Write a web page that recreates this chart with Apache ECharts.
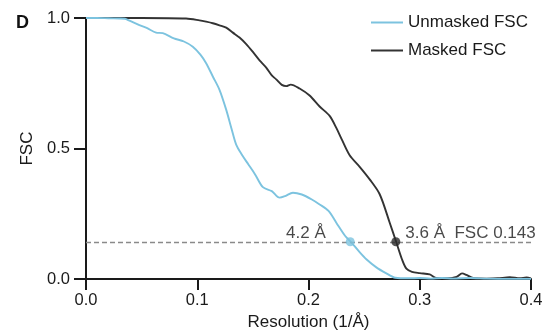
<!DOCTYPE html>
<html>
<head>
<meta charset="utf-8">
<script src="https://cdn.jsdelivr.net/npm/echarts@6/dist/echarts.min.js"></script>
<style>html,body{margin:0;padding:0;background:#fff}#c{width:548px;height:336px}</style>
</head>
<body>
<div id="c"></div>
<script>
// ---- data ----
const unmaskedX = [0, 0.01, 0.02, 0.03, 0.035, 0.039, 0.048, 0.055, 0.063, 0.069, 0.079, 0.088, 0.096, 0.103, 0.108, 0.114, 0.120, 0.126, 0.131, 0.135, 0.140, 0.146, 0.152, 0.159, 0.167, 0.174, 0.179, 0.186, 0.194, 0.203, 0.210, 0.218, 0.225, 0.233, 0.238, 0.245, 0.252, 0.261, 0.270, 0.278, 0.290, 0.300, 0.310, 0.320, 0.330, 0.345, 0.360, 0.380, 0.400];
const unmaskedY = [1.0, 1.0, 0.999, 0.998, 0.997, 0.990, 0.973, 0.961, 0.944, 0.942, 0.922, 0.910, 0.890, 0.859, 0.827, 0.776, 0.725, 0.649, 0.573, 0.515, 0.477, 0.439, 0.401, 0.352, 0.337, 0.312, 0.318, 0.331, 0.324, 0.305, 0.286, 0.261, 0.216, 0.165, 0.143, 0.108, 0.076, 0.045, 0.022, 0.005, 0.003, 0.004, 0.002, 0.004, 0.002, 0.004, 0.002, 0.001, 0.001];
const maskedX = [0, 0.05, 0.09, 0.102, 0.108, 0.114, 0.120, 0.126, 0.132, 0.138, 0.144, 0.150, 0.156, 0.162, 0.167, 0.171, 0.176, 0.180, 0.184, 0.192, 0.201, 0.210, 0.219, 0.225, 0.230, 0.237, 0.246, 0.255, 0.264, 0.273, 0.279, 0.284, 0.288, 0.293, 0.300, 0.309, 0.315, 0.325, 0.333, 0.338, 0.342, 0.348, 0.360, 0.370, 0.381, 0.390, 0.396, 0.400];
const maskedY = [1.0, 1.0, 0.998, 0.991, 0.986, 0.980, 0.972, 0.963, 0.944, 0.925, 0.900, 0.870, 0.838, 0.810, 0.780, 0.765, 0.744, 0.739, 0.745, 0.730, 0.703, 0.661, 0.625, 0.579, 0.534, 0.474, 0.430, 0.382, 0.325, 0.216, 0.140, 0.076, 0.040, 0.028, 0.023, 0.018, 0.004, 0.003, 0.008, 0.022, 0.016, 0.004, 0.002, 0.003, 0.007, 0.003, 0.006, 0.003];
const cutoff = 0.143;
const crossUnmasked = [0.2375, 0.143];
const crossMasked = [0.2785, 0.143];
const labelUnmasked = '4.2 Å';
const labelMasked = '3.6 Å  FSC 0.143';
const seriesNames = ['Unmasked FSC', 'Masked FSC'];
const xTicks = { min: 0, max: 0.4, interval: 0.1 };
const yTicks = { min: 0, max: 1.0, interval: 0.5 };

const zip = (xs, ys) => xs.map((x, i) => [x, ys[i]]);
const FONT = 'Liberation Sans, Arial, sans-serif';
const BLUE = '#7cc3df';
const DARK = '#333333';
const AX = '#1a1a1a';

const chart = echarts.init(document.getElementById('c'), null, { renderer: 'canvas' });
chart.setOption({
  animation: false,
  backgroundColor: '#ffffff',
  textStyle: { fontFamily: FONT, color: '#1a1a1a' },
  title: {
    text: 'D', left: 11, top: 9,
    textStyle: { fontFamily: FONT, fontSize: 18, fontWeight: 'bold', color: '#111' }
  },
  legend: {
    data: seriesNames,
    orient: 'vertical', left: 366, top: 9,
    itemWidth: 32, itemHeight: 2, itemGap: 11,
    textStyle: { fontFamily: FONT, fontSize: 17, color: '#1a1a1a' },
    icon: 'rect'
  },
  grid: { left: 86, right: 17, top: 18, bottom: 56 },
  xAxis: {
    type: 'value', min: xTicks.min, max: xTicks.max, interval: xTicks.interval,
    name: 'Resolution (1/Å)', nameLocation: 'middle', nameGap: 31,
    nameTextStyle: { fontFamily: FONT, fontSize: 17, color: '#1a1a1a' },
    axisLine: { show: true, lineStyle: { color: AX, width: 2 } },
    axisTick: { show: true, length: 11, lineStyle: { color: AX, width: 2 } },
    axisLabel: { fontFamily: FONT, fontSize: 16.5, color: '#1a1a1a', margin: 13, formatter: v => v.toFixed(1) },
    splitLine: { show: false }
  },
  yAxis: {
    type: 'value', min: yTicks.min, max: yTicks.max, interval: yTicks.interval,
    name: 'FSC', nameLocation: 'middle', nameGap: 44,
    nameTextStyle: { fontFamily: FONT, fontSize: 17, color: '#1a1a1a' },
    axisLine: { show: true, lineStyle: { color: AX, width: 2 } },
    axisTick: { show: true, length: 12, lineStyle: { color: AX, width: 2 } },
    axisLabel: { fontFamily: FONT, fontSize: 16.5, color: '#1a1a1a', margin: 16, formatter: v => v.toFixed(1) },
    splitLine: { show: false }
  },
  series: [
    {
      name: seriesNames[1], type: 'line', data: zip(maskedX, maskedY),
      showSymbol: false, symbol: 'none', smooth: 0.3, z: 3,
      lineStyle: { color: DARK, width: 1.9 }, itemStyle: { color: DARK },
      markLine: {
        silent: true, symbol: ['none', 'none'], label: { show: false },
        lineStyle: { color: '#8a8a8a', width: 1.3, type: [5, 3] },
        data: [{ yAxis: cutoff }]
      }
    },
    {
      name: seriesNames[0], type: 'line', data: zip(unmaskedX, unmaskedY),
      showSymbol: false, symbol: 'none', smooth: 0.3, z: 4,
      lineStyle: { color: BLUE, width: 1.9 }, itemStyle: { color: BLUE }
    },
    {
      type: 'scatter', data: [crossUnmasked], symbolSize: 9, z: 5,
      itemStyle: { color: BLUE },
      label: { show: true, position: 'left', distance: 5, offset: [-15, -8],
        formatter: labelUnmasked, fontFamily: FONT, fontSize: 17, color: '#1a1a1a' }
    },
    {
      type: 'scatter', data: [crossMasked], symbolSize: 9, z: 5,
      itemStyle: { color: '#2a2a2a' },
      label: { show: true, position: 'right', distance: 5, offset: [0, -8],
        formatter: labelMasked, fontFamily: FONT, fontSize: 17, color: '#1a1a1a' }
    }
  ]
});
</script>
</body>
</html>
